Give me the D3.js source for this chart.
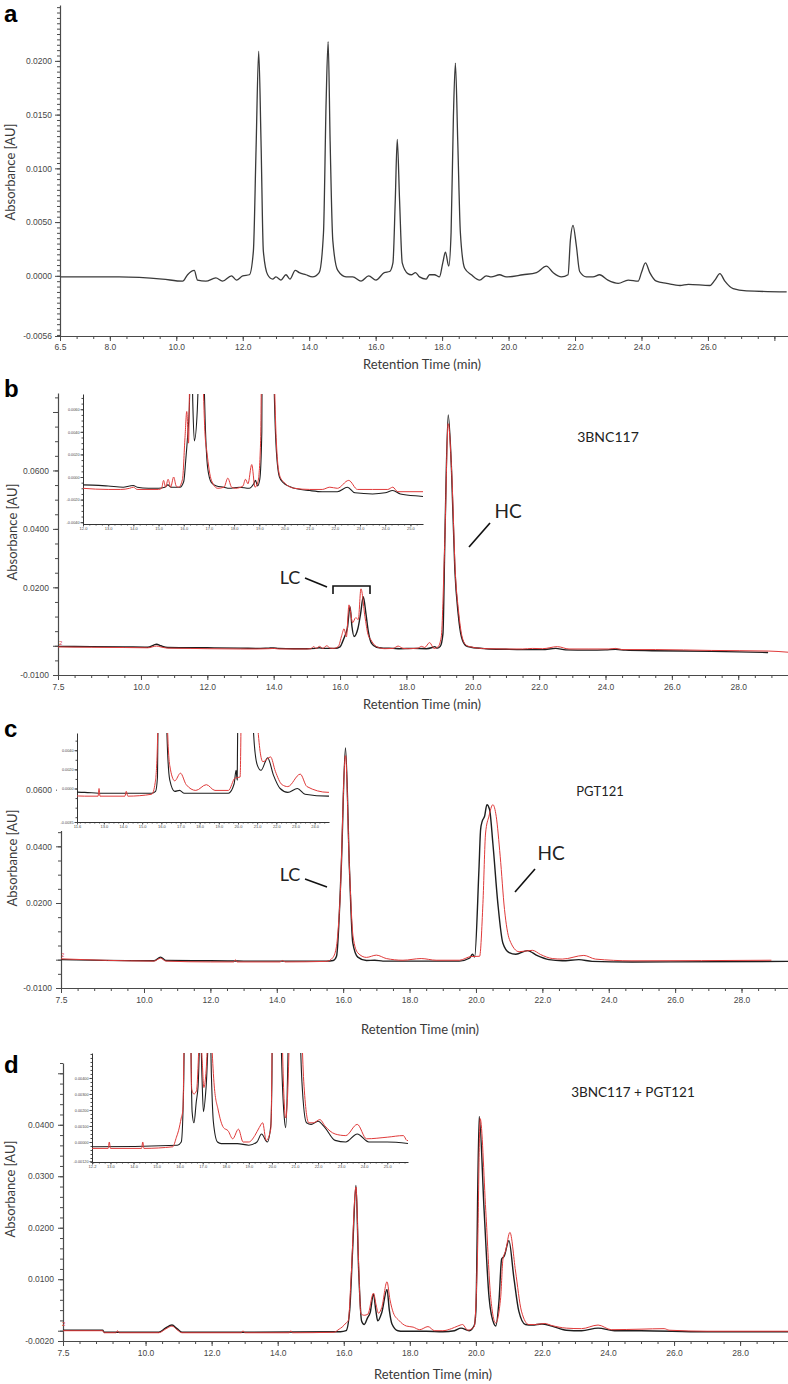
<!DOCTYPE html>
<html><head><meta charset="utf-8">
<script src="https://cdn.jsdelivr.net/npm/d3@7"></script>
<style>body{margin:0;background:#fff}svg{display:block}</style>
</head><body>
<svg id="chart" width="788" height="1384"></svg>
<script>
// ---------------- DATA (retention time [min], absorbance [AU]) ----------------
const aTrace = [[6.52,-0.0001],[8.28,-0.0001],[9.58,-0.0003],[10.19,-0.0005],[10.34,0.0001],[10.54,0.0005],[10.64,-0.0004],[10.89,-0.0005],[11.19,-0.0002],[11.39,-0.0005],[11.66,0.0],[11.81,-0.0004],[12.0,0.0],[12.2,0.0001],[12.32,0.0023],[12.4,0.0117],[12.48,0.0209],[12.55,0.0125],[12.62,0.0023],[12.75,0.0001],[12.9,-0.0003],[13.0,-0.0001],[13.15,-0.0004],[13.3,0.0001],[13.42,-0.0003],[13.58,0.0005],[13.7,0.0003],[13.9,0.0001],[14.1,-0.0001],[14.3,0.0003],[14.43,0.004],[14.51,0.0163],[14.57,0.0218],[14.63,0.0125],[14.71,0.0033],[14.86,0.0005],[15.11,-0.0001],[15.31,-0.0001],[15.56,-0.0005],[15.79,0.0],[16.01,-0.0004],[16.26,0.0003],[16.42,0.0004],[16.52,0.0012],[16.59,0.007],[16.65,0.0127],[16.72,0.007],[16.8,0.0012],[16.97,0.0002],[17.07,0.0001],[17.2,0.0003],[17.32,-0.0001],[17.52,-0.0003],[17.62,0.0001],[17.77,0.0001],[17.92,-0.0001],[18.02,0.0012],[18.1,0.0022],[18.2,0.0009],[18.27,0.004],[18.34,0.0148],[18.4,0.0198],[18.47,0.0126],[18.55,0.004],[18.68,0.0007],[18.88,0.0001],[19.13,-0.0004],[19.33,0.0],[19.48,-0.0001],[19.73,0.0001],[19.93,-0.0001],[20.43,0.0001],[20.84,0.0003],[21.14,0.0009],[21.34,0.0003],[21.59,-0.0001],[21.79,0.0001],[21.86,0.0033],[21.94,0.0047],[22.04,0.0028],[22.14,0.0004],[22.34,-0.0001],[22.54,-0.0001],[22.74,0.0001],[22.99,-0.0004],[23.3,-0.0007],[23.6,-0.0004],[23.9,-0.0005],[24.0,0.0003],[24.12,0.0012],[24.25,0.0003],[24.45,-0.0005],[24.76,-0.0007],[25.16,-0.0009],[25.41,-0.0008],[26.06,-0.0009],[26.21,-0.0004],[26.36,0.0002],[26.51,-0.0005],[26.76,-0.0012],[27.16,-0.0014],[28.37,-0.0015]];

const bBlack = [[7.5,-0.0002],[8.5,-0.0003],[9.5,-0.0004],[10.2,-0.0005],[10.47,0.0005],[10.6,0.0],[10.8,-0.0006],[11.5,-0.0007],[12.0,-0.0007],[13.0,-0.0008],[13.6,-0.0009],[13.85,-0.0008],[14.0,-0.00075],[14.15,-0.0009],[14.6,-0.001],[15.0,-0.001],[15.25,-0.0009],[15.37,-0.0007],[15.5,-0.0009],[15.85,-0.0009],[16.0,-0.0004],[16.08,0.0015],[16.15,0.0035],[16.22,0.006],[16.3,0.0134],[16.36,0.0065],[16.42,0.0032],[16.54,0.006],[16.62,0.011],[16.7,0.0168],[16.78,0.011],[16.85,0.005],[16.95,0.0008],[17.1,-0.0005],[17.3,-0.0008],[17.6,-0.0009],[17.8,-0.001],[18.2,-0.0009],[18.6,-0.001],[18.78,-0.0006],[18.85,-0.0003],[18.93,-0.0008],[19.02,-0.0002],[19.1,0.004],[19.16,0.037],[19.26,0.079],[19.36,0.06],[19.46,0.026],[19.56,0.011],[19.66,0.003],[19.8,0.0],[19.95,-0.0005],[20.4,-0.001],[21.0,-0.0012],[21.5,-0.0013],[22.1,-0.0013],[22.5,-0.0009],[22.8,-0.0014],[23.5,-0.0015],[24.0,-0.0014],[24.3,-0.0012],[24.6,-0.0015],[25.4,-0.0017],[27.2,-0.0019],[28.9,-0.0023]];

const bRed = [[7.5,-0.0004],[8.5,-0.0005],[9.5,-0.0006],[10.2,-0.0007],[10.47,-0.0001],[10.6,-0.0004],[10.8,-0.0008],[11.5,-0.0009],[12.0,-0.001],[13.0,-0.0011],[13.5,-0.0011],[13.85,-0.001],[14.0,-0.0009],[14.15,-0.0011],[15.0,-0.0011],[15.12,-0.001],[15.2,-0.0003],[15.28,-0.0009],[15.38,-0.0002],[15.48,-0.0009],[15.6,0.0],[15.7,-0.0008],[15.8,-0.0009],[15.95,-0.0002],[16.05,0.0035],[16.12,0.0058],[16.19,0.003],[16.27,0.014],[16.38,0.0079],[16.47,0.0096],[16.55,0.009],[16.63,0.0195],[16.75,0.01],[16.84,0.004],[16.92,0.0022],[17.1,-0.0003],[17.35,-0.001],[17.6,-0.0009],[17.75,-0.0001],[17.9,-0.0009],[18.05,-0.001],[18.35,-0.0008],[18.45,-0.0002],[18.55,-0.0006],[18.7,0.0011],[18.83,-0.0009],[18.95,-0.0004],[19.05,0.003],[19.15,0.033],[19.26,0.076],[19.37,0.058],[19.47,0.026],[19.57,0.012],[19.67,0.0035],[19.8,0.0002],[19.95,-0.0004],[20.4,-0.001],[21.0,-0.0011],[21.5,-0.0011],[21.8,-0.0009],[22.1,-0.001],[22.55,-0.0003],[22.9,-0.0011],[23.5,-0.0011],[24.1,-0.0011],[24.3,-0.0009],[24.5,-0.0013],[25.5,-0.0013],[27.2,-0.0016],[28.9,-0.0018],[29.5,-0.0022]];

const cBlack = [[7.5,0.0],[10.3,-0.0004],[10.5,0.0009],[10.66,-0.0003],[12.0,-0.0004],[13.0,-0.0005],[14.0,-0.0005],[15.5,-0.0005],[15.7,-0.0003],[15.8,0.0012],[15.94,0.0318],[16.07,0.0747],[16.19,0.0318],[16.29,0.0059],[16.44,0.0009],[16.7,-0.0003],[16.95,-0.0002],[17.2,-0.0005],[18.35,-0.0005],[19.5,-0.0005],[19.8,0.0005],[19.9,0.0019],[19.96,0.0009],[20.09,0.0318],[20.14,0.0459],[20.19,0.0489],[20.26,0.0506],[20.33,0.0547],[20.41,0.053],[20.51,0.041],[20.66,0.0198],[20.81,0.0059],[21.0,0.0025],[21.2,0.0019],[21.55,0.0032],[21.85,0.0014],[22.2,0.0],[22.6,-0.0004],[23.1,0.0],[23.5,-0.0006],[24.7,-0.0008],[29.4,-0.0006]];

const cRed = [[7.5,0.0003],[10.3,-0.0005],[10.5,0.0005],[10.66,-0.0005],[12.0,-0.0008],[12.7,-0.0008],[12.75,0.0],[12.8,-0.0008],[14.1,-0.0008],[14.17,-0.0003],[14.25,-0.0008],[15.5,-0.0006],[15.68,0.0006],[15.79,0.0041],[15.9,0.02],[16.07,0.072],[16.19,0.032],[16.3,0.008],[16.44,0.0024],[16.7,0.0008],[17.0,0.0016],[17.3,0.0004],[17.8,-0.0002],[18.35,0.0004],[18.8,-0.0002],[19.5,-0.0002],[19.85,0.0011],[20.11,0.0012],[20.21,0.0198],[20.29,0.0447],[20.39,0.0506],[20.51,0.0547],[20.61,0.0506],[20.73,0.0365],[20.86,0.0177],[21.01,0.0071],[21.3,0.0028],[21.7,0.0033],[21.95,0.0018],[22.3,0.0004],[22.6,0.0002],[23.25,0.0015],[23.6,0.0002],[24.7,-0.0004],[28.9,-0.0002]];

const dBlack = [[7.5,0.0001],[8.7,0.0001],[8.75,-0.0003],[10.4,-0.0003],[10.6,0.0005],[10.8,0.0011],[10.95,0.0004],[11.1,-0.0003],[12.2,-0.0003],[15.9,-0.0002],[16.07,0.0],[16.18,0.004],[16.27,0.016],[16.37,0.0282],[16.45,0.012],[16.54,0.0019],[16.62,0.0012],[16.72,0.0025],[16.8,0.0035],[16.9,0.0071],[16.97,0.004],[17.03,0.0019],[17.15,0.0035],[17.31,0.008],[17.38,0.004],[17.46,0.0013],[17.64,0.0],[17.8,-0.0001],[18.5,-0.0001],[19.0,-0.0002],[19.35,0.0],[19.55,0.0005],[19.8,0.0],[19.95,0.001],[20.0,0.0038],[20.1,0.0416],[20.25,0.0233],[20.4,0.0064],[20.55,0.0013],[20.6,0.0009],[20.7,0.0058],[20.78,0.0139],[20.86,0.0145],[21.0,0.0175],[21.15,0.0103],[21.3,0.0038],[21.5,0.0012],[21.7,0.0011],[22.0,0.0013],[22.3,0.0009],[22.74,0.0001],[23.2,0.0],[23.7,0.0005],[24.2,0.0],[25.0,0.0],[26.9,-0.0002],[29.45,-0.0002]];

const dRed = [[7.5,0.0],[8.7,0.0],[8.75,-0.0004],[9.1,-0.0004],[9.15,0.0],[9.2,-0.0004],[10.4,-0.0004],[10.6,0.0003],[10.8,0.0009],[10.95,0.0002],[11.1,-0.0004],[12.9,-0.0004],[12.95,0.0],[13.0,-0.0004],[14.35,-0.0004],[14.4,0.0],[14.45,-0.0004],[15.7,-0.0003],[15.86,0.0003],[15.95,0.0007],[16.07,0.0015],[16.14,0.002],[16.22,0.01],[16.37,0.0279],[16.45,0.013],[16.52,0.0033],[16.62,0.003],[16.73,0.0032],[16.9,0.0073],[16.98,0.005],[17.05,0.0034],[17.15,0.0045],[17.31,0.0095],[17.4,0.006],[17.5,0.0035],[17.67,0.002],[17.9,0.0009],[18.1,0.0007],[18.3,0.0002],[18.55,0.0008],[18.75,0.0],[19.0,0.0],[19.26,0.0004],[19.45,0.0009],[19.6,0.0012],[19.75,0.0001],[19.95,0.0008],[20.05,0.015],[20.13,0.0412],[20.3,0.0233],[20.45,0.0064],[20.6,0.0015],[20.75,0.0064],[20.82,0.0139],[20.9,0.0155],[21.03,0.0191],[21.2,0.0116],[21.38,0.0038],[21.6,0.0012],[21.8,0.0012],[22.08,0.0014],[22.3,0.001],[22.74,0.0005],[23.2,0.0004],[23.7,0.0011],[24.1,0.0002],[25.0,0.0003],[25.7,0.0004],[25.85,0.0001],[27.0,-0.0001],[29.45,-0.0001]];

// tick labels
const xLabelsA = [6.5, 8.0, 10.0, 12.0, 14.0, 16.0, 18.0, 20.0, 22.0, 24.0, 26.0];
const xMajorA = [6.5, 8.0, 10.0, 12.0, 14.0, 16.0, 18.0, 20.0, 22.0, 24.0, 26.0, 28.0];
const xLabelsMain = [7.5, 10.0, 12.0, 14.0, 16.0, 18.0, 20.0, 22.0, 24.0, 26.0, 28.0];
const yLabelsA = [-0.0056, 0.0, 0.005, 0.01, 0.015, 0.02];
const yLabelsB = [-0.01, 0.02, 0.04, 0.06];
const yMajorB = [-0.01, 0.0, 0.02, 0.04, 0.06, 0.08];
const yLabelsC = [-0.01, 0.02, 0.04, 0.06];
const yMajorC = [-0.01, 0.0, 0.02, 0.04, 0.06];
const yLabelsD = [-0.002, 0.01, 0.02, 0.03, 0.04];
const yMajorD = [-0.002, 0.0, 0.01, 0.02, 0.03, 0.04, 0.05];
const insetXLabelsB = [12,13,14,15,16,17,18,19,20,21,22,23,24,25];
const insetYLabelsB = [-0.004,-0.002,0,0.002,0.004,0.006];
const insetXLabelsC = [11.6,13,14,15,16,17,18,19,20,21,22,23,24];
const insetYLabelsC = [-0.0035,0,0.002,0.004];
const insetXLabelsD = [12.2,13,14,15,16,17,18,19,20,21,22,23,24,25];
const insetYLabelsD = [-0.0012,0,0.001,0.002,0.003,0.004];
const panelLabels = ["a","b","c","d"];
const sampleNames = ["3BNC117","PGT121","3BNC117 + PGT121"];

// ---------------- DRAWING ----------------
const svg = d3.select("#chart");
const TICKF = "'Liberation Sans', Arial, sans-serif";
const TITLEF = "Lato, 'Open Sans', sans-serif";
const AX = "#4a4a4a";
const BLACK = "#1e1e1e", RED = "#e03a3a";
const line = (x,y) => d3.line().x(d=>x(d[0])).y(d=>y(d[1])).curve(d3.curveMonotoneX);

function styleAxis(g, fs){
  g.selectAll(".domain").attr("stroke", AX).attr("stroke-width", 1.2);
  g.selectAll(".tick line").attr("stroke", AX).attr("stroke-width", 1);
  g.selectAll(".tick text").attr("fill", "#474747").attr("font-family", TICKF).attr("font-size", fs);
}

function axes(o){
  const g = svg.append("g");
  const x = o.x, y = o.y;
  const x0 = x.range()[0], yb = y.range()[0];
  const gxm = g.append("g").attr("transform",`translate(0,${yb})`)
    .call(d3.axisBottom(x).tickValues(o.xMinor).tickSize(o.minLen).tickSizeOuter(0).tickFormat(""));
  gxm.select(".domain").remove(); styleAxis(gxm, o.fs);
  const gx = g.append("g").attr("transform",`translate(0,${yb})`)
    .call(d3.axisBottom(x).tickValues(o.xMajor).tickSize(o.majLen).tickSizeOuter(0).tickPadding(o.pad)
      .tickFormat(d => o.xLabels.some(v=>Math.abs(v-d)<1e-9) ? d.toFixed(1) : ""));
  styleAxis(gx, o.fs);
  const gym = g.append("g").attr("transform",`translate(${x0},0)`)
    .call(d3.axisLeft(y).tickValues(o.yMinor).tickSize(o.minLen).tickSizeOuter(0).tickFormat(""));
  gym.select(".domain").remove(); styleAxis(gym, o.fs);
  const gy = g.append("g").attr("transform",`translate(${x0},0)`)
    .call(d3.axisLeft(y).tickValues(o.yMajor).tickSize(o.majLen).tickSizeOuter(0).tickPadding(o.pad)
      .tickFormat(d => o.yLabels.some(v=>Math.abs(v-d)<1e-9) ? d.toFixed(o.yDec) : ""));
  styleAxis(gy, o.fs);
  return g;
}

function traces(x, y, series, clipId){
  const g = svg.append("g");
  if (clipId) g.attr("clip-path", `url(#${clipId})`);
  series.forEach(s => g.append("path").datum(s.data).attr("d", line(x,y))
    .attr("fill","none").attr("stroke", s.color).attr("stroke-width", s.w)
    .attr("stroke-linejoin","round"));
}

function title(t, x, y, rot){
  const el = svg.append("text").text(t).attr("font-family", TITLEF).attr("font-size", 13)
    .attr("fill","#3a3a3a").attr("text-anchor","middle");
  if (rot) el.attr("transform",`translate(${x},${y}) rotate(-90)`).attr("dy","0.35em");
  else el.attr("x", x).attr("y", y);
}
function panelLetter(t, x, y){
  svg.append("text").text(t).attr("x",x).attr("y",y).attr("font-family","'Liberation Sans', Arial, sans-serif")
    .attr("font-weight","bold").attr("font-size",24).attr("fill","#000");
}
function note(t, x, y, fs){
  svg.append("text").text(t).attr("x",x).attr("y",y).attr("text-anchor","middle")
    .attr("font-family", TITLEF).attr("font-size", fs).attr("fill","#222");
}
function seg(pts){
  svg.append("path").attr("d", d3.line()(pts)).attr("fill","none").attr("stroke","#111").attr("stroke-width",1.6);
}
function marker(x, y){
  svg.append("text").text("2").attr("x",x).attr("y",y).attr("font-family",TICKF).attr("font-size",6).attr("fill",RED);
}

const defs = svg.append("defs");
function inset(o){
  svg.append("rect").attr("x",o.bg[0]).attr("y",o.bg[1]).attr("width",o.bg[2]).attr("height",o.bg[3]).attr("fill","#fff");
  const x = d3.scaleLinear().domain(o.xd).range(o.xr);
  const y = d3.scaleLinear().domain(o.yd).range(o.yr);
  const g = svg.append("g");
  const gxm = g.append("g").attr("transform",`translate(0,${o.yr[0]})`)
    .call(d3.axisBottom(x).tickValues(d3.range(Math.ceil(o.xd[0]*4)/4, o.xd[1], 0.25)).tickSize(1.5).tickSizeOuter(0).tickFormat(""));
  gxm.select(".domain").remove(); styleAxis(gxm, 4);
  const gx = g.append("g").attr("transform",`translate(0,${o.yr[0]})`)
    .call(d3.axisBottom(x).tickValues(o.xLabels).tickSize(2.5).tickSizeOuter(0).tickPadding(1).tickFormat(d=>d.toFixed(1)));
  styleAxis(gx, 4);
  const gym = g.append("g").attr("transform",`translate(${o.xr[0]},0)`)
    .call(d3.axisLeft(y).tickValues(d3.range(Math.ceil(o.yd[0]/o.ystep)*o.ystep, o.yd[1], o.ystep)).tickSize(1.5).tickSizeOuter(0).tickFormat(""));
  gym.select(".domain").remove(); styleAxis(gym, 4);
  const gy = g.append("g").attr("transform",`translate(${o.xr[0]},0)`)
    .call(d3.axisLeft(y).tickValues(o.yLabels).tickSize(2.5).tickSizeOuter(0).tickPadding(1).tickFormat(d=>d.toFixed(o.dec)));
  styleAxis(gy, 3.8);
  g.selectAll(".domain").attr("stroke","#333").attr("stroke-width",1);
  defs.append("clipPath").attr("id",o.id).append("rect")
    .attr("x",o.xr[0]).attr("y",o.yr[1]).attr("width",o.xr[1]-o.xr[0]).attr("height",o.yr[0]-o.yr[1]);
  traces(x, y, o.series, o.id);
}

// ---------- Panel a ----------
{
  const x = d3.scaleLinear().domain([6.5, 28.41]).range([60, 788]);
  const y = d3.scaleLinear().domain([-0.0056, 0.0252]).range([336, 5]);
  axes({x, y, xMajor:xMajorA, xLabels:xLabelsA, xMinor:d3.range(7.0, 28.4, 0.5),
        yMajor:yLabelsA, yLabels:yLabelsA, yMinor:d3.range(-0.0055, 0.0251, 0.0005), yDec:4,
        majLen:5, minLen:3, pad:3, fs:8.5});
  traces(x, y, [{data:aTrace, color:"#3a3a3a", w:1.3}]);
  title("Retention Time (min)", 422, 369);
  title("Absorbance [AU]", 10, 172, true);
  panelLetter(panelLabels[0], 4, 22);
}

// ---------- Panel b ----------
{
  const x = d3.scaleLinear().domain([7.5, 29.5]).range([58, 788]);
  const y = d3.scaleLinear().domain([-0.01, 0.0865]).range([675, 393]);
  axes({x, y, xMajor:xLabelsMain, xLabels:xLabelsMain, xMinor:d3.range(8.0, 29.5, 0.5),
        yMajor:yMajorB, yLabels:yLabelsB, yMinor:d3.range(-0.01, 0.0851, 0.005), yDec:4,
        majLen:5, minLen:3, pad:4, fs:8.5});
  traces(x, y, [{data:bBlack, color:BLACK, w:1.4},{data:bRed, color:RED, w:1.0}]);
  marker(59, 645);
  inset({id:"clipB", bg:[62, 390, 364, 143], xd:[12.0, 25.5], xr:[83, 423], yd:[-0.00416, 0.00735], yr:[524, 394],
         xLabels:insetXLabelsB, yLabels:insetYLabelsB, ystep:0.0005, dec:4,
         series:[{data:bBlack, color:BLACK, w:1.1},{data:bRed, color:RED, w:1.0}]});
  title("Retention Time (min)", 422, 709);
  title("Absorbance [AU]", 12, 532, true);
  panelLetter(panelLabels[1], 4, 397);
  note(sampleNames[0], 608, 442, 14);
  note("HC", 508, 518, 19);
  seg([[490,523],[469,547]]);
  note("LC", 290, 584, 18);
  seg([[305,578],[327,587]]);
  seg([[333,594],[333,586],[370,586],[370,594]]);
}

// ---------- Panel c ----------
{
  const x = d3.scaleLinear().domain([7.5, 29.4]).range([61, 788]);
  const y = d3.scaleLinear().domain([-0.01, 0.08]).range([988, 733]);
  axes({x, y, xMajor:xLabelsMain, xLabels:xLabelsMain, xMinor:d3.range(8.0, 29.4, 0.5),
        yMajor:yMajorC, yLabels:yLabelsC, yMinor:d3.range(-0.01, 0.0801, 0.005), yDec:4,
        majLen:5, minLen:3, pad:4, fs:8.5});
  traces(x, y, [{data:cBlack, color:BLACK, w:1.4},{data:cRed, color:RED, w:1.0}]);
  marker(61, 957);
  inset({id:"clipC", bg:[57, 729, 276, 102], xd:[11.6, 24.75], xr:[77, 329], yd:[-0.0035, 0.0058], yr:[822, 733],
         xLabels:insetXLabelsC, yLabels:insetYLabelsC, ystep:0.001, dec:4,
         series:[{data:cBlack, color:BLACK, w:1.1},{data:cRed, color:RED, w:1.0}]});
  title("Retention Time (min)", 420, 1034);
  title("Absorbance [AU]", 12, 858, true);
  panelLetter(panelLabels[2], 4, 737);
  note(sampleNames[1], 600, 796, 13);
  note("HC", 551, 860, 19);
  seg([[535,869],[515,892]]);
  note("LC", 290, 881, 18);
  seg([[305,879],[327,887]]);
}

// ---------- Panel d ----------
{
  const x = d3.scaleLinear().domain([7.5, 29.45]).range([63, 788]);
  const y = d3.scaleLinear().domain([-0.002, 0.052]).range([1341, 1063]);
  axes({x, y, xMajor:xLabelsMain, xLabels:xLabelsMain, xMinor:d3.range(8.0, 29.4, 0.5),
        yMajor:yMajorD, yLabels:yLabelsD, yMinor:d3.range(-0.002, 0.0521, 0.002), yDec:4,
        majLen:5, minLen:3, pad:4, fs:8.5});
  traces(x, y, [{data:dBlack, color:BLACK, w:1.4},{data:dRed, color:RED, w:1.0}]);
  marker(62, 1326);
  inset({id:"clipD", bg:[66, 1049, 346, 121], xd:[12.2, 25.9], xr:[92, 408], yd:[-0.00125, 0.00556], yr:[1162, 1053],
         xLabels:insetXLabelsD, yLabels:insetYLabelsD, ystep:0.00025, dec:5,
         series:[{data:dBlack, color:BLACK, w:1.1},{data:dRed, color:RED, w:1.0}]});
  title("Retention Time (min)", 433, 1379);
  title("Absorbance [AU]", 10, 1189, true);
  panelLetter(panelLabels[3], 4, 1073);
  note(sampleNames[2], 633, 1097, 13.5);
}
</script>
</body></html>
